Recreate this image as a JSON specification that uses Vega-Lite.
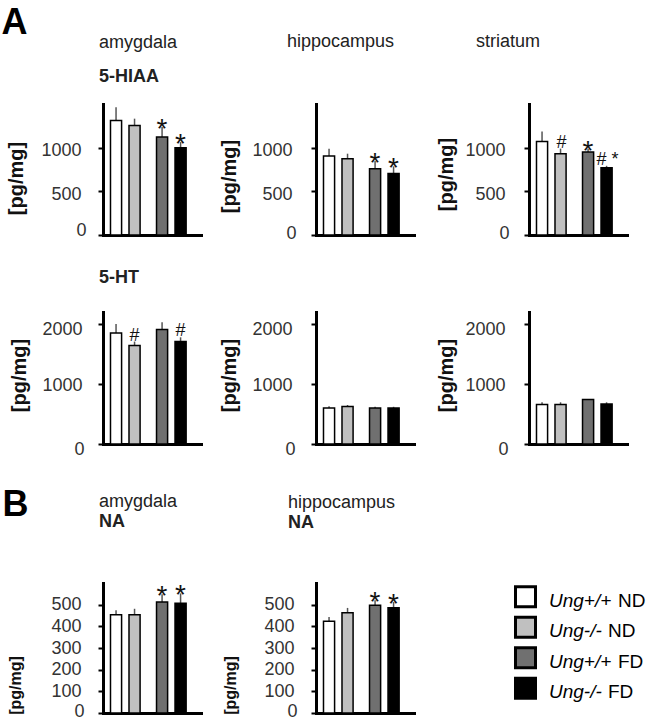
{
  "$schema": "https://vega.github.io/schema/vega-lite/v6.json",
  "background": "white",
  "padding": {"left": 1, "top": 5, "right": 0, "bottom": 0},
  "datasets": {
    "bars": [
      {"region": "amygdala", "analyte": "5-HIAA", "genotype": "Ung+/+", "diet": "ND", "group": "Ung+/+ ND", "mean": 1312, "upper": 1464, "sig": ""},
      {"region": "amygdala", "analyte": "5-HIAA", "genotype": "Ung-/-", "diet": "ND", "group": "Ung-/- ND", "mean": 1255, "upper": 1332, "sig": ""},
      {"region": "amygdala", "analyte": "5-HIAA", "genotype": "Ung+/+", "diet": "FD", "group": "Ung+/+ FD", "mean": 1121, "upper": 1236, "sig": "*"},
      {"region": "amygdala", "analyte": "5-HIAA", "genotype": "Ung-/-", "diet": "FD", "group": "Ung-/- FD", "mean": 1000, "upper": 1064, "sig": "*"},
      {"region": "hippocampus", "analyte": "5-HIAA", "genotype": "Ung+/+", "diet": "ND", "group": "Ung+/+ ND", "mean": 904, "upper": 989, "sig": ""},
      {"region": "hippocampus", "analyte": "5-HIAA", "genotype": "Ung-/-", "diet": "ND", "group": "Ung-/- ND", "mean": 874, "upper": 931, "sig": ""},
      {"region": "hippocampus", "analyte": "5-HIAA", "genotype": "Ung+/+", "diet": "FD", "group": "Ung+/+ FD", "mean": 760, "upper": 847, "sig": "*"},
      {"region": "hippocampus", "analyte": "5-HIAA", "genotype": "Ung-/-", "diet": "FD", "group": "Ung-/- FD", "mean": 703, "upper": 786, "sig": "*"},
      {"region": "striatum", "analyte": "5-HIAA", "genotype": "Ung+/+", "diet": "ND", "group": "Ung+/+ ND", "mean": 1072, "upper": 1186, "sig": ""},
      {"region": "striatum", "analyte": "5-HIAA", "genotype": "Ung-/-", "diet": "ND", "group": "Ung-/- ND", "mean": 931, "upper": 989, "sig": "#"},
      {"region": "striatum", "analyte": "5-HIAA", "genotype": "Ung+/+", "diet": "FD", "group": "Ung+/+ FD", "mean": 950, "upper": 989, "sig": "*"},
      {"region": "striatum", "analyte": "5-HIAA", "genotype": "Ung-/-", "diet": "FD", "group": "Ung-/- FD", "mean": 769, "upper": 792, "sig": "# *"},
      {"region": "amygdala", "analyte": "5-HT", "genotype": "Ung+/+", "diet": "ND", "group": "Ung+/+ ND", "mean": 1850, "upper": 2000, "sig": ""},
      {"region": "amygdala", "analyte": "5-HT", "genotype": "Ung-/-", "diet": "ND", "group": "Ung-/- ND", "mean": 1640, "upper": 1707, "sig": "#"},
      {"region": "amygdala", "analyte": "5-HT", "genotype": "Ung+/+", "diet": "FD", "group": "Ung+/+ FD", "mean": 1907, "upper": 2028, "sig": ""},
      {"region": "amygdala", "analyte": "5-HT", "genotype": "Ung-/-", "diet": "FD", "group": "Ung-/- FD", "mean": 1707, "upper": 1778, "sig": "#"},
      {"region": "hippocampus", "analyte": "5-HT", "genotype": "Ung+/+", "diet": "ND", "group": "Ung+/+ ND", "mean": 600, "upper": 628, "sig": ""},
      {"region": "hippocampus", "analyte": "5-HT", "genotype": "Ung-/-", "diet": "ND", "group": "Ung-/- ND", "mean": 623, "upper": 650, "sig": ""},
      {"region": "hippocampus", "analyte": "5-HT", "genotype": "Ung+/+", "diet": "FD", "group": "Ung+/+ FD", "mean": 600, "upper": 620, "sig": ""},
      {"region": "hippocampus", "analyte": "5-HT", "genotype": "Ung-/-", "diet": "FD", "group": "Ung-/- FD", "mean": 600, "upper": 620, "sig": ""},
      {"region": "striatum", "analyte": "5-HT", "genotype": "Ung+/+", "diet": "ND", "group": "Ung+/+ ND", "mean": 657, "upper": 695, "sig": ""},
      {"region": "striatum", "analyte": "5-HT", "genotype": "Ung-/-", "diet": "ND", "group": "Ung-/- ND", "mean": 657, "upper": 695, "sig": ""},
      {"region": "striatum", "analyte": "5-HT", "genotype": "Ung+/+", "diet": "FD", "group": "Ung+/+ FD", "mean": 740, "upper": 750, "sig": ""},
      {"region": "striatum", "analyte": "5-HT", "genotype": "Ung-/-", "diet": "FD", "group": "Ung-/- FD", "mean": 667, "upper": 695, "sig": ""},
      {"region": "amygdala", "analyte": "NA", "genotype": "Ung+/+", "diet": "ND", "group": "Ung+/+ ND", "mean": 454, "upper": 474, "sig": ""},
      {"region": "amygdala", "analyte": "NA", "genotype": "Ung-/-", "diet": "ND", "group": "Ung-/- ND", "mean": 454, "upper": 481, "sig": ""},
      {"region": "amygdala", "analyte": "NA", "genotype": "Ung+/+", "diet": "FD", "group": "Ung+/+ FD", "mean": 512, "upper": 548, "sig": "*"},
      {"region": "amygdala", "analyte": "NA", "genotype": "Ung-/-", "diet": "FD", "group": "Ung-/- FD", "mean": 507, "upper": 552, "sig": "*"},
      {"region": "hippocampus", "analyte": "NA", "genotype": "Ung+/+", "diet": "ND", "group": "Ung+/+ ND", "mean": 423, "upper": 443, "sig": ""},
      {"region": "hippocampus", "analyte": "NA", "genotype": "Ung-/-", "diet": "ND", "group": "Ung-/- ND", "mean": 463, "upper": 485, "sig": ""},
      {"region": "hippocampus", "analyte": "NA", "genotype": "Ung+/+", "diet": "FD", "group": "Ung+/+ FD", "mean": 497, "upper": 520, "sig": "*"},
      {"region": "hippocampus", "analyte": "NA", "genotype": "Ung-/-", "diet": "FD", "group": "Ung-/- FD", "mean": 486, "upper": 512, "sig": "*"}
    ],
    "legend": [
      {"group": "Ung+/+ ND", "genotype": "Ung+/+", "diet": "ND"},
      {"group": "Ung-/- ND", "genotype": "Ung-/-", "diet": "ND"},
      {"group": "Ung+/+ FD", "genotype": "Ung+/+", "diet": "FD"},
      {"group": "Ung-/- FD", "genotype": "Ung-/-", "diet": "FD"}
    ]
  },
  "bounds": "full",
  "spacing": 29,
  "vconcat": [
    {
      "title": {"text": "A", "fontSize": 36, "fontWeight": "bold", "color": "#000", "anchor": "start", "frame": "bounds", "dx": -4.5, "offset": -9},
      "bounds": "flush",
      "columns": 3,
      "spacing": {"row": 77, "column": 115},
      "concat": [
        {
          "width": 98, "height": 131,
          "title": {"text": "amygdala", "subtitle": "5-HIAA", "dx": -4, "offset": 18, "subtitlePadding": 16},
          "data": {"name": "bars"},
          "transform": [{"filter": "datum.region == 'amygdala' && datum.analyte == '5-HIAA'"}],
          "encoding": {
            "x": {"field": "diet", "type": "nominal", "sort": ["ND", "FD"], "scale": {"paddingInner": 0.357, "paddingOuter": 0.243, "align": 0.335}, "axis": {"title": null, "labels": false, "ticks": false, "domainCap": "square"}},
            "xOffset": {"field": "genotype", "type": "nominal", "sort": ["Ung+/+", "Ung-/-"], "scale": {"paddingInner": 0.4, "paddingOuter": 0}},
            "y": {"field": "mean", "type": "quantitative", "scale": {"domain": [0, 1500], "nice": false}, "axis": {"title": "[pg/mg]", "values": [0, 500, 1000], "format": "d", "titleX": -77, "titleY": 74, "domainCap": "square", "labelOffset": {"condition": {"test": "datum.value == 0", "value": -5}, "value": 3}, "labelPadding": {"condition": {"test": "datum.value == 0", "value": 12}, "value": 17}}}
          },
          "layer": [
            {"mark": {"type": "rule", "color": "#555", "strokeWidth": 1.5}, "encoding": {"y2": {"field": "upper"}}},
            {"mark": {"type": "bar", "stroke": "#000", "strokeWidth": 1.5}, "encoding": {"color": {"field": "group", "type": "nominal", "scale": {"domain": ["Ung+/+ ND", "Ung-/- ND", "Ung+/+ FD", "Ung-/- FD"], "range": ["#ffffff", "#c0c0c0", "#707070", "#000000"]}, "legend": null}}},
            {"transform": [{"filter": "datum.sig == '*'"}], "mark": {"type": "text", "fontSize": 28, "baseline": "alphabetic", "dy": 11, "color": "#111"}, "encoding": {"y": {"field": "upper", "type": "quantitative"}, "text": {"field": "sig"}}},
            {"transform": [{"filter": "indexof(datum.sig, '#') >= 0"}], "mark": {"type": "text", "fontSize": 18, "baseline": "alphabetic", "dy": -1, "color": "#111"}, "encoding": {"y": {"field": "upper", "type": "quantitative"}, "text": {"field": "sig"}}}
          ]
        },
        {
          "width": 98, "height": 131,
          "title": {"text": "hippocampus", "dx": -29, "offset": 53},
          "data": {"name": "bars"},
          "transform": [{"filter": "datum.region == 'hippocampus' && datum.analyte == '5-HIAA'"}],
          "encoding": {
            "x": {"field": "diet", "type": "nominal", "sort": ["ND", "FD"], "scale": {"paddingInner": 0.357, "paddingOuter": 0.243, "align": 0.335}, "axis": {"title": null, "labels": false, "ticks": false, "domainCap": "square"}},
            "xOffset": {"field": "genotype", "type": "nominal", "sort": ["Ung+/+", "Ung-/-"], "scale": {"paddingInner": 0.4, "paddingOuter": 0}},
            "y": {"field": "mean", "type": "quantitative", "scale": {"domain": [0, 1500], "nice": false}, "axis": {"title": "[pg/mg]", "values": [0, 500, 1000], "format": "d", "titleX": -77, "titleY": 72, "domainCap": "square", "labelOffset": {"condition": {"test": "datum.value == 0", "value": -2}, "value": 3}, "labelPadding": {"condition": {"test": "datum.value == 0", "value": 15}, "value": 19}}}
          },
          "layer": [
            {"mark": {"type": "rule", "color": "#555", "strokeWidth": 1.5}, "encoding": {"y2": {"field": "upper"}}},
            {"mark": {"type": "bar", "stroke": "#000", "strokeWidth": 1.5}, "encoding": {"color": {"field": "group", "type": "nominal", "scale": {"domain": ["Ung+/+ ND", "Ung-/- ND", "Ung+/+ FD", "Ung-/- FD"], "range": ["#ffffff", "#c0c0c0", "#707070", "#000000"]}, "legend": null}}},
            {"transform": [{"filter": "datum.sig == '*'"}], "mark": {"type": "text", "fontSize": 28, "baseline": "alphabetic", "dy": 11, "color": "#111"}, "encoding": {"y": {"field": "upper", "type": "quantitative"}, "text": {"field": "sig"}}}
          ]
        },
        {
          "width": 98, "height": 131,
          "title": {"text": "striatum", "dx": -53, "offset": 53},
          "data": {"name": "bars"},
          "transform": [{"filter": "datum.region == 'striatum' && datum.analyte == '5-HIAA'"}],
          "encoding": {
            "x": {"field": "diet", "type": "nominal", "sort": ["ND", "FD"], "scale": {"paddingInner": 0.357, "paddingOuter": 0.243, "align": 0.335}, "axis": {"title": null, "labels": false, "ticks": false, "domainCap": "square"}},
            "xOffset": {"field": "genotype", "type": "nominal", "sort": ["Ung+/+", "Ung-/-"], "scale": {"paddingInner": 0.4, "paddingOuter": 0}},
            "y": {"field": "mean", "type": "quantitative", "scale": {"domain": [0, 1500], "nice": false}, "axis": {"title": "[pg/mg]", "values": [0, 500, 1000], "format": "d", "titleX": -73, "titleY": 70, "domainCap": "square", "labelOffset": {"condition": {"test": "datum.value == 0", "value": -2}, "value": 3}, "labelPadding": {"condition": {"test": "datum.value == 0", "value": 15}, "value": 19}}}
          },
          "layer": [
            {"mark": {"type": "rule", "color": "#555", "strokeWidth": 1.5}, "encoding": {"y2": {"field": "upper"}}},
            {"mark": {"type": "bar", "stroke": "#000", "strokeWidth": 1.5}, "encoding": {"color": {"field": "group", "type": "nominal", "scale": {"domain": ["Ung+/+ ND", "Ung-/- ND", "Ung+/+ FD", "Ung-/- FD"], "range": ["#ffffff", "#c0c0c0", "#707070", "#000000"]}, "legend": null}}},
            {"transform": [{"filter": "datum.sig == '*'"}], "mark": {"type": "text", "fontSize": 28, "baseline": "alphabetic", "dy": 11, "color": "#111"}, "encoding": {"y": {"field": "upper", "type": "quantitative"}, "text": {"field": "sig"}}},
            {"transform": [{"filter": "indexof(datum.sig, '#') >= 0"}], "mark": {"type": "text", "fontSize": 18, "baseline": "alphabetic", "dy": -1, "dx": 1, "color": "#111"}, "encoding": {"y": {"field": "upper", "type": "quantitative"}, "text": {"field": "sig"}}}
          ]
        },
        {
          "width": 98, "height": 132,
          "title": {"text": "5-HT", "fontWeight": "bold", "dx": -4, "offset": 25},
          "data": {"name": "bars"},
          "transform": [{"filter": "datum.region == 'amygdala' && datum.analyte == '5-HT'"}],
          "encoding": {
            "x": {"field": "diet", "type": "nominal", "sort": ["ND", "FD"], "scale": {"paddingInner": 0.357, "paddingOuter": 0.243, "align": 0.335}, "axis": {"title": null, "labels": false, "ticks": false, "domainCap": "square"}},
            "xOffset": {"field": "genotype", "type": "nominal", "sort": ["Ung+/+", "Ung-/-"], "scale": {"paddingInner": 0.4, "paddingOuter": 0}},
            "y": {"field": "mean", "type": "quantitative", "scale": {"domain": [0, 2200], "nice": false}, "axis": {"title": "[pg/mg]", "values": [0, 1000, 2000], "format": "d", "titleX": -74, "titleY": 63, "domainCap": "square", "labelOffset": {"condition": {"test": "datum.value == 1000", "value": 1}, "value": 5}, "labelPadding": {"condition": {"test": "datum.value == 0", "value": 14}, "value": 16}}}
          },
          "layer": [
            {"mark": {"type": "rule", "color": "#555", "strokeWidth": 1.5}, "encoding": {"y2": {"field": "upper"}}},
            {"mark": {"type": "bar", "stroke": "#000", "strokeWidth": 1.5}, "encoding": {"color": {"field": "group", "type": "nominal", "scale": {"domain": ["Ung+/+ ND", "Ung-/- ND", "Ung+/+ FD", "Ung-/- FD"], "range": ["#ffffff", "#c0c0c0", "#707070", "#000000"]}, "legend": null}}},
            {"transform": [{"filter": "indexof(datum.sig, '#') >= 0"}], "mark": {"type": "text", "fontSize": 18, "baseline": "alphabetic", "dy": -1, "color": "#111"}, "encoding": {"y": {"field": "upper", "type": "quantitative"}, "text": {"field": "sig"}}}
          ]
        },
        {
          "width": 98, "height": 132,
          "data": {"name": "bars"},
          "transform": [{"filter": "datum.region == 'hippocampus' && datum.analyte == '5-HT'"}],
          "encoding": {
            "x": {"field": "diet", "type": "nominal", "sort": ["ND", "FD"], "scale": {"paddingInner": 0.357, "paddingOuter": 0.243, "align": 0.335}, "axis": {"title": null, "labels": false, "ticks": false, "domainCap": "square"}},
            "xOffset": {"field": "genotype", "type": "nominal", "sort": ["Ung+/+", "Ung-/-"], "scale": {"paddingInner": 0.4, "paddingOuter": 0}},
            "y": {"field": "mean", "type": "quantitative", "scale": {"domain": [0, 2200], "nice": false}, "axis": {"title": "[pg/mg]", "values": [0, 1000, 2000], "format": "d", "titleX": -77, "titleY": 63, "domainCap": "square", "labelOffset": {"condition": {"test": "datum.value == 1000", "value": 1}, "value": 5}, "labelPadding": {"condition": {"test": "datum.value == 0", "value": 16}, "value": 19}}}
          },
          "layer": [
            {"mark": {"type": "rule", "color": "#555", "strokeWidth": 1.5}, "encoding": {"y2": {"field": "upper"}}},
            {"mark": {"type": "bar", "stroke": "#000", "strokeWidth": 1.5}, "encoding": {"color": {"field": "group", "type": "nominal", "scale": {"domain": ["Ung+/+ ND", "Ung-/- ND", "Ung+/+ FD", "Ung-/- FD"], "range": ["#ffffff", "#c0c0c0", "#707070", "#000000"]}, "legend": null}}}
          ]
        },
        {
          "width": 98, "height": 132,
          "data": {"name": "bars"},
          "transform": [{"filter": "datum.region == 'striatum' && datum.analyte == '5-HT'"}],
          "encoding": {
            "x": {"field": "diet", "type": "nominal", "sort": ["ND", "FD"], "scale": {"paddingInner": 0.357, "paddingOuter": 0.243, "align": 0.335}, "axis": {"title": null, "labels": false, "ticks": false, "domainCap": "square"}},
            "xOffset": {"field": "genotype", "type": "nominal", "sort": ["Ung+/+", "Ung-/-"], "scale": {"paddingInner": 0.4, "paddingOuter": 0}},
            "y": {"field": "mean", "type": "quantitative", "scale": {"domain": [0, 2200], "nice": false}, "axis": {"title": "[pg/mg]", "values": [0, 1000, 2000], "format": "d", "titleX": -73, "titleY": 63, "domainCap": "square", "labelOffset": {"condition": {"test": "datum.value == 1000", "value": 1}, "value": 5}, "labelPadding": {"condition": {"test": "datum.value == 0", "value": 16}, "value": 19}}}
          },
          "layer": [
            {"mark": {"type": "rule", "color": "#555", "strokeWidth": 1.5}, "encoding": {"y2": {"field": "upper"}}},
            {"mark": {"type": "bar", "stroke": "#000", "strokeWidth": 1.5}, "encoding": {"color": {"field": "group", "type": "nominal", "scale": {"domain": ["Ung+/+ ND", "Ung-/- ND", "Ung+/+ FD", "Ung-/- FD"], "range": ["#ffffff", "#c0c0c0", "#707070", "#000000"]}, "legend": null}}}
          ]
        }
      ]
    },
    {
      "title": {"text": "B", "fontSize": 36, "fontWeight": "bold", "color": "#000", "anchor": "start", "frame": "bounds", "dx": -4.5, "offset": -31},
      "bounds": "flush",
      "spacing": 115,
      "hconcat": [
        {
          "width": 98, "height": 130,
          "title": {"text": "amygdala", "subtitle": "NA", "dx": -4, "offset": 51, "subtitlePadding": 2},
          "data": {"name": "bars"},
          "transform": [{"filter": "datum.region == 'amygdala' && datum.analyte == 'NA'"}],
          "encoding": {
            "x": {"field": "diet", "type": "nominal", "sort": ["ND", "FD"], "scale": {"paddingInner": 0.357, "paddingOuter": 0.243, "align": 0.335}, "axis": {"title": null, "labels": false, "ticks": false, "domainCap": "square"}},
            "xOffset": {"field": "genotype", "type": "nominal", "sort": ["Ung+/+", "Ung-/-"], "scale": {"paddingInner": 0.4, "paddingOuter": 0}},
            "y": {"field": "mean", "type": "quantitative", "scale": {"domain": [0, 600], "nice": false}, "axis": {"title": "[pg/mg]", "values": [0, 100, 200, 300, 400, 500], "format": "d", "titleFontSize": 16, "titleX": -80, "titleY": 102, "domainCap": "square", "labelOffset": {"condition": {"test": "datum.value == 0", "value": -2}, "value": 0}, "labelPadding": {"condition": {"test": "datum.value == 0", "value": 14}, "value": 17}}}
          },
          "layer": [
            {"mark": {"type": "rule", "color": "#555", "strokeWidth": 1.5}, "encoding": {"y2": {"field": "upper"}}},
            {"mark": {"type": "bar", "stroke": "#000", "strokeWidth": 1.5}, "encoding": {"color": {"field": "group", "type": "nominal", "scale": {"domain": ["Ung+/+ ND", "Ung-/- ND", "Ung+/+ FD", "Ung-/- FD"], "range": ["#ffffff", "#c0c0c0", "#707070", "#000000"]}, "legend": null}}},
            {"transform": [{"filter": "datum.sig == '*'"}], "mark": {"type": "text", "fontSize": 28, "baseline": "alphabetic", "dy": 11, "color": "#111"}, "encoding": {"y": {"field": "upper", "type": "quantitative"}, "text": {"field": "sig"}}}
          ]
        },
        {
          "width": 98, "height": 130,
          "title": {"text": "hippocampus", "subtitle": "NA", "dx": -28, "offset": 51, "subtitlePadding": 2},
          "data": {"name": "bars"},
          "transform": [{"filter": "datum.region == 'hippocampus' && datum.analyte == 'NA'"}],
          "encoding": {
            "x": {"field": "diet", "type": "nominal", "sort": ["ND", "FD"], "scale": {"paddingInner": 0.357, "paddingOuter": 0.243, "align": 0.335}, "axis": {"title": null, "labels": false, "ticks": false, "domainCap": "square"}},
            "xOffset": {"field": "genotype", "type": "nominal", "sort": ["Ung+/+", "Ung-/-"], "scale": {"paddingInner": 0.4, "paddingOuter": 0}},
            "y": {"field": "mean", "type": "quantitative", "scale": {"domain": [0, 600], "nice": false}, "axis": {"title": "[pg/mg]", "values": [0, 100, 200, 300, 400, 500], "format": "d", "titleFontSize": 16, "titleX": -78, "titleY": 102, "domainCap": "square", "labelOffset": {"condition": {"test": "datum.value == 0", "value": -2}, "value": 0}, "labelPadding": {"condition": {"test": "datum.value == 0", "value": 14}, "value": 17}}}
          },
          "layer": [
            {"mark": {"type": "rule", "color": "#555", "strokeWidth": 1.5}, "encoding": {"y2": {"field": "upper"}}},
            {"mark": {"type": "bar", "stroke": "#000", "strokeWidth": 1.5}, "encoding": {"color": {"field": "group", "type": "nominal", "scale": {"domain": ["Ung+/+ ND", "Ung-/- ND", "Ung+/+ FD", "Ung-/- FD"], "range": ["#ffffff", "#c0c0c0", "#707070", "#000000"]}, "legend": null}}},
            {"transform": [{"filter": "datum.sig == '*'"}], "mark": {"type": "text", "fontSize": 28, "baseline": "alphabetic", "dy": 11, "color": "#111"}, "encoding": {"y": {"field": "upper", "type": "quantitative"}, "text": {"field": "sig"}}}
          ]
        },
        {
          "width": 10, "height": 119,
          "data": {"name": "legend"},
          "encoding": {
            "y": {"field": "group", "type": "nominal", "sort": ["Ung+/+ ND", "Ung-/- ND", "Ung+/+ FD", "Ung-/- FD"], "scale": {"type": "point", "padding": 0.45}, "axis": null}
          },
          "layer": [
            {"mark": {"type": "point", "shape": "square", "filled": true, "size": 400, "stroke": "#000", "strokeWidth": 3, "opacity": 1, "xOffset": -8.5}, "encoding": {"color": {"field": "group", "type": "nominal", "scale": {"domain": ["Ung+/+ ND", "Ung-/- ND", "Ung+/+ FD", "Ung-/- FD"], "range": ["#ffffff", "#c0c0c0", "#707070", "#000000"]}, "legend": null}}},
            {"mark": {"type": "text", "align": "left", "baseline": "middle", "dx": 15, "dy": 4, "fontSize": 19, "fontStyle": "italic", "color": "#000"}, "encoding": {"text": {"field": "genotype"}}},
            {"mark": {"type": "text", "align": "left", "baseline": "middle", "dx": {"expr": "datum.genotype == 'Ung+/+' ? 84 : 74"}, "dy": 4, "fontSize": 19, "color": "#000"}, "encoding": {"text": {"field": "diet"}}}
          ]
        }
      ]
    }
  ],
  "config": {
    "font": "Liberation Sans",
    "view": {"stroke": null},
    "axis": {"labelFont": "Liberation Sans", "labelFontSize": 18, "labelColor": "#333", "labelPadding": 17, "titleFont": "Liberation Sans", "titleFontSize": 20, "titleFontWeight": "bold", "titleColor": "#111", "domainColor": "#000", "domainWidth": 3, "tickColor": "#000", "tickWidth": 2, "tickSize": 5, "grid": false},
    "title": {"font": "Liberation Sans", "fontSize": 18, "fontWeight": "normal", "color": "#222", "anchor": "start", "frame": "group", "subtitleFont": "Liberation Sans", "subtitleFontSize": 18, "subtitleFontWeight": "bold", "subtitleColor": "#222"},
    "text": {"font": "Liberation Sans"}
  }
}
